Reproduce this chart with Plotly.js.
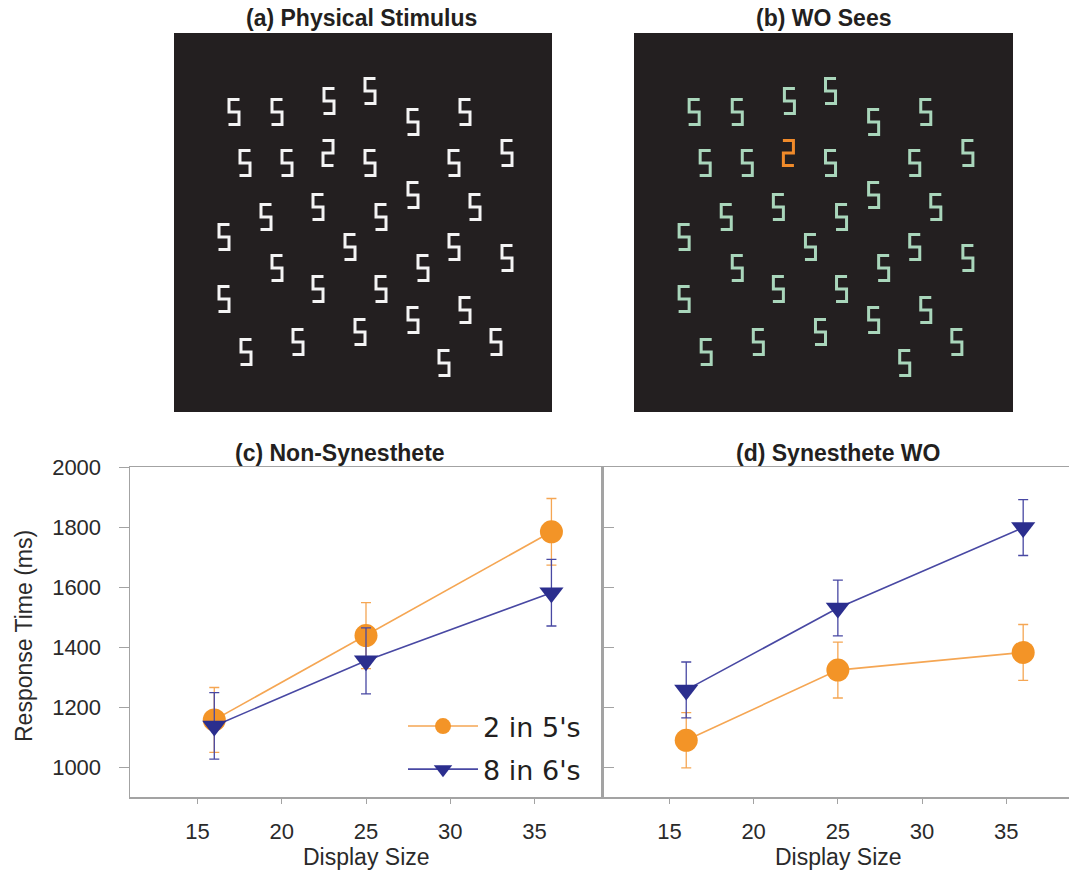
<!DOCTYPE html>
<html><head><meta charset="utf-8">
<script src="https://cdn.plot.ly/plotly-3.0.1.min.js"></script>
<style>html,body{margin:0;padding:0;background:#fff}</style>
</head><body><div id="chart" style="width:1069px;height:872px"></div>
<script>
// ---- Data: response times (ms) by display size ----
const displaySize = [16, 25, 36];
const nonSyn2in5 = [1157, 1438, 1784];
const nonSyn2in5Err = [108, 110, 111];
const nonSyn8in6 = [1137, 1354, 1581];
const nonSyn8in6Err = [111, 110, 111];
const syn2in5 = [1089, 1323, 1382];
const syn2in5Err = [92, 93, 93];
const syn8in6 = [1257, 1530, 1798];
const syn8in6Err = [93, 93, 93];

const seriesNames = ["2 in 5's", "8 in 6's"];
const panelTitles = ["(a) Physical Stimulus", "(b) WO Sees", "(c) Non-Synesthete", "(d) Synesthete WO"];
const yTicks = [1000, 1200, 1400, 1600, 1800, 2000];
const xTicks = [15, 20, 25, 30, 35];

// ---- Stimulus display: glyph centre positions (display units) ----
const distractorX = [60, 103, 155, 196, 239, 291, 71, 113, 196, 280, 333, 92, 144, 207, 239, 301, 50, 176, 280, 333, 103, 249, 50, 144, 207, 239, 291, 72, 124, 186, 322, 270];
const distractorY = [79, 79, 68, 58, 89, 79, 130, 130, 130, 130, 120, 184, 174, 184, 162, 174, 204, 214, 214, 225, 235, 235, 266, 256, 256, 287, 277, 319, 309, 299, 309, 330];
const targetX = [154];
const targetY = [120];

// seven-segment style glyph outlines (style template)
const FIVE = [[5.5,-12.5],[-5,-12.5],[-5,0],[5,0],[5,12.5],[-5.5,12.5]];
const TWO  = [[-5.5,-12.5],[5,-12.5],[5,0],[-5,0],[-5,12.5],[5.5,12.5]];
function glyphs(xs, ys, tpl) {
  const px = [], py = [];
  xs.forEach((x, i) => {
    tpl.forEach(([dx, dy]) => { px.push(x + dx); py.push(ys[i] + dy); });
    px.push(null); py.push(null);
  });
  return {px, py};
}

const ORANGE = '#f39427', ORANGE_L = '#f5a653';
const BLUE = '#2b2e8e', BLUE_L = '#4848a3';
const GREEN = '#a9d6bb';

const traces = [];
function addGlyphs(xa, ya, color5, color2) {
  const f = glyphs(distractorX, distractorY, FIVE);
  const t = glyphs(targetX, targetY, TWO);
  traces.push({x: f.px, y: f.py, xaxis: xa, yaxis: ya, mode: 'lines', line: {color: color5, width: 3}, hoverinfo: 'skip', showlegend: false});
  traces.push({x: t.px, y: t.py, xaxis: xa, yaxis: ya, mode: 'lines', line: {color: color2, width: 3}, hoverinfo: 'skip', showlegend: false});
}
addGlyphs('x3', 'y3', '#f4f4f4', '#f4f4f4');
addGlyphs('x4', 'y4', GREEN, '#f08a2a');

function series(xa, ya, y, err, name, color, lcolor, symbol, size, show, group) {
  return {x: displaySize, y: y, xaxis: xa, yaxis: ya, name: name, mode: 'lines+markers',
    legendgroup: group, showlegend: show,
    line: {color: lcolor, width: 1.6},
    marker: {color: color, size: size, symbol: symbol, line: {width: 0}},
    error_y: {type: 'data', array: err, visible: true, color: lcolor, thickness: 1.3, width: 5}};
}
traces.push(series('x', 'y', nonSyn2in5, nonSyn2in5Err, seriesNames[0], ORANGE, ORANGE_L, 'circle', 23, true, 'a'));
traces.push(series('x', 'y', nonSyn8in6, nonSyn8in6Err, seriesNames[1], BLUE, BLUE_L, 'triangle-down', 21, true, 'b'));
traces.push(series('x2', 'y2', syn2in5, syn2in5Err, seriesNames[0], ORANGE, ORANGE_L, 'circle', 23, false, 'a'));
traces.push(series('x2', 'y2', syn8in6, syn8in6Err, seriesNames[1], BLUE, BLUE_L, 'triangle-down', 21, false, 'b'));

const W = 1069, H = 872;
const px = v => v / W, py = v => 1 - v / H;
const AX = '#a3a3a3';
const tickFont = {family: 'Liberation Sans, Arial, sans-serif', size: 22, color: '#2a2a2a'};
const titleFont = {family: 'Liberation Sans, Arial, sans-serif', size: 23, color: '#231f20', weight: 'bold'};
const labFont = {family: 'Liberation Sans, Arial, sans-serif', size: 23, color: '#2a2a2a'};

const hiddenAx = {visible: false, fixedrange: true, showgrid: false, zeroline: false};

const layout = {
  width: W, height: H,
  margin: {l: 0, r: 0, t: 0, b: 0},
  paper_bgcolor: '#ffffff', plot_bgcolor: 'rgba(0,0,0,0)',
  showlegend: true,
  xaxis: {domain: [px(130), px(602)], range: [11, 39], tickvals: xTicks, ticks: 'outside', ticklen: 5, tickcolor: AX,
    showline: true, linecolor: AX, linewidth: 1.5, mirror: true, showgrid: false, zeroline: false,
    tickfont: tickFont, ticklabelstandoff: 9},
  yaxis: {domain: [py(797), py(467)], range: [900, 2000], tickvals: yTicks, ticks: 'outside', ticklen: 10, tickcolor: AX,
    showline: true, linecolor: AX, linewidth: 1.5, mirror: true, showgrid: false, zeroline: false,
    tickfont: tickFont, ticklabelstandoff: 13},
  xaxis2: {domain: [px(602), 1], range: [11, 38.72], tickvals: xTicks, ticks: 'outside', ticklen: 5, tickcolor: AX,
    showline: true, linecolor: AX, linewidth: 1.5, mirror: true, showgrid: false, zeroline: false,
    tickfont: tickFont, ticklabelstandoff: 9, anchor: 'y2'},
  yaxis2: {domain: [py(797), py(467)], range: [900, 2000], tickvals: yTicks, ticks: 'inside', ticklen: 12, tickcolor: AX,
    showline: true, linecolor: AX, linewidth: 1.5, showticklabels: false, showgrid: false, zeroline: false, anchor: 'x2'},
  xaxis3: Object.assign({domain: [px(174), px(552)], range: [0, 378], anchor: 'y3'}, hiddenAx),
  yaxis3: Object.assign({domain: [py(412), py(33)], range: [379, 0], anchor: 'x3'}, hiddenAx),
  xaxis4: Object.assign({domain: [px(634), px(1013)], range: [0, 378], anchor: 'y4'}, hiddenAx),
  yaxis4: Object.assign({domain: [py(412), py(33)], range: [379, 0], anchor: 'x4'}, hiddenAx),
  shapes: [
    {type: 'rect', xref: 'x3 domain', yref: 'y3 domain', x0: 0, x1: 1, y0: 0, y1: 1, fillcolor: '#231f20', line: {width: 0}, layer: 'below'},
    {type: 'rect', xref: 'x4 domain', yref: 'y4 domain', x0: 0, x1: 1, y0: 0, y1: 1, fillcolor: '#231f20', line: {width: 0}, layer: 'below'}
  ],
  legend: {x: px(403), y: py(702), xanchor: 'left', yanchor: 'top', bgcolor: 'rgba(0,0,0,0)',
    font: {family: 'DejaVu Sans, sans-serif', size: 27, color: '#231f20'}, itemwidth: 70, tracegroupgap: 5},
  annotations: [
    {text: panelTitles[0], x: px(361), y: py(18), xref: 'paper', yref: 'paper', showarrow: false, xanchor: 'center', yanchor: 'middle', font: titleFont},
    {text: panelTitles[1], x: px(823), y: py(18), xref: 'paper', yref: 'paper', showarrow: false, xanchor: 'center', yanchor: 'middle', font: titleFont},
    {text: panelTitles[2], x: px(340), y: py(453), xref: 'paper', yref: 'paper', showarrow: false, xanchor: 'center', yanchor: 'middle', font: titleFont},
    {text: panelTitles[3], x: px(838), y: py(453), xref: 'paper', yref: 'paper', showarrow: false, xanchor: 'center', yanchor: 'middle', font: titleFont},
    {text: 'Response Time (ms)', x: px(24), y: py(636), xref: 'paper', yref: 'paper', showarrow: false, textangle: -90, xanchor: 'center', yanchor: 'middle', font: labFont},
    {text: 'Display Size', x: px(366), y: py(857), xref: 'paper', yref: 'paper', showarrow: false, xanchor: 'center', yanchor: 'middle', font: labFont},
    {text: 'Display Size', x: px(838), y: py(857), xref: 'paper', yref: 'paper', showarrow: false, xanchor: 'center', yanchor: 'middle', font: labFont}
  ]
};

Plotly.newPlot('chart', traces, layout, {displayModeBar: false, staticPlot: true});
</script>
</body></html>
